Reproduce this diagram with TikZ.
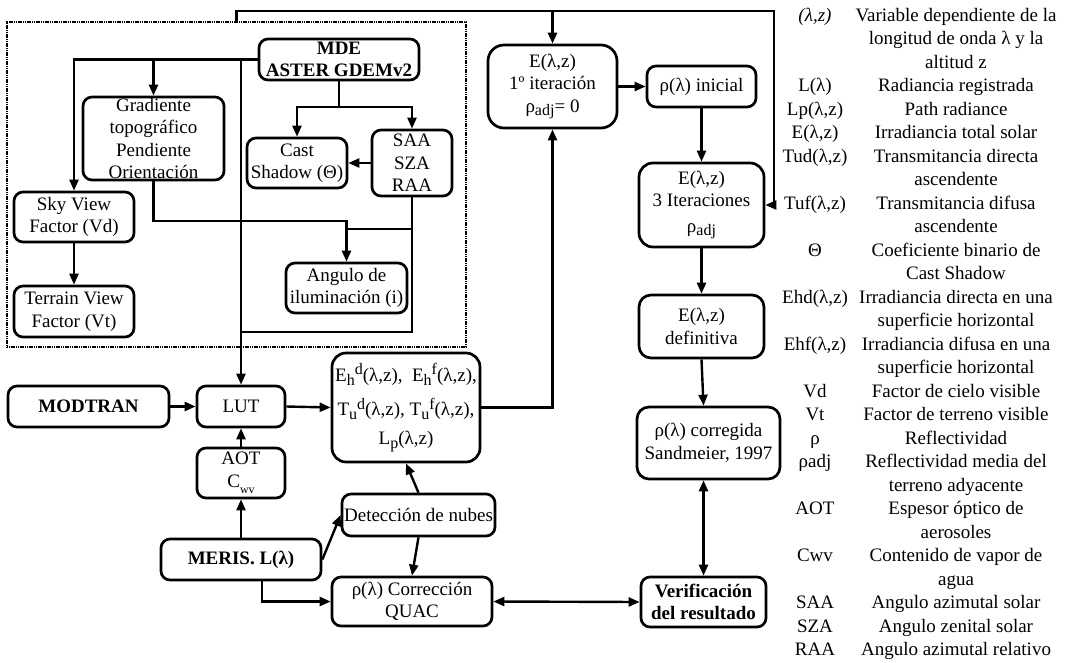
\documentclass[tikz,border=0pt]{standalone}
\usepackage{fontspec}
\setmainfont{Liberation Serif}
\usetikzlibrary{arrows.meta}
\newcommand\lsub[1]{\raisebox{-0.45ex}{\fontsize{16}{16}\selectfont #1}}
\newcommand\lsup[1]{\raisebox{0.75ex}{\fontsize{16}{16}\selectfont #1}}
\begin{document}
\begin{tikzpicture}[x=1pt,y=-1pt,
  font=\fontsize{19}{22.5}\selectfont,
  box/.style={draw, line width=2.7pt, rounded corners=9pt, align=center, inner sep=0pt},
  arr/.style={line width=2.4pt, -{Triangle[length=11pt,width=9pt]}},
  darr/.style={line width=2.4pt, {Triangle[length=11pt,width=9pt]}-{Triangle[length=11pt,width=9pt]}},
  ln/.style={line width=2.4pt},
  grpbox/.style={draw, line width=2pt, dash pattern=on 1.2pt off 0.6pt, inner sep=0pt},
  leg/.style={anchor=base, inner sep=0pt},
  ]
\useasboundingbox (0,0) rectangle (1069,662);

% group box
\node[grpbox, minimum width=459pt, minimum height=325pt] (grp) at (236.5,184.5) {};

% nodes
\node[box, minimum width=160pt, minimum height=41pt] (MDE) at (339,59.5) {\textbf{MDE}\\\textbf{ASTER GDEMv2}};
\node[box, minimum width=141pt, minimum height=83pt] (Grad) at (153.5,138.5) {Gradiente\\topográfico\\Pendiente\\Orientación};
\node[box, minimum width=120pt, minimum height=50pt] (Sky) at (74,217) {Sky View\\Factor (Vd)};
\node[box, minimum width=120pt, minimum height=51pt] (Ter) at (74,311.5) {Terrain View\\Factor (Vt)};
\node[box, minimum width=100pt, minimum height=50pt] (Cast) at (297,163) {Cast\\Shadow (Θ)};
\node[box, minimum width=80pt, minimum height=66pt] (SAA) at (412,163) {SAA\\SZA\\RAA};
\node[box, minimum width=121pt, minimum height=50pt] (Ang) at (346.5,288) {Angulo de\\iluminación (i)};
\node[box, minimum width=88pt, minimum height=41pt] (LUT) at (241,406.5) {LUT};
\node[box, minimum width=161pt, minimum height=41pt] (MOD) at (88.5,406.5) {\textbf{MODTRAN}};
\node[box, minimum width=88pt, minimum height=50pt] (AOT) at (241,473) {AOT\\C\raisebox{-0.7ex}{\fontsize{12}{12}\selectfont wv}};
\node[box, minimum width=160pt, minimum height=41pt] (MER) at (241,559.5) {\textbf{MERIS. L(λ)}};
\node[box, rounded corners=14pt, minimum width=148pt, minimum height=109pt] (Eh) at (406,407.5)
  {E\lsub{h}\lsup{d}(λ,z),\ \ E\lsub{h}\lsup{f}(λ,z),\\[12pt]T\lsub{u}\lsup{d}(λ,z), T\lsub{u}\lsup{f}(λ,z),\\[6pt]L\lsub{p}(λ,z)};
\node[box, minimum width=153pt, minimum height=42pt] (Det) at (418.5,515) {Detección de nubes};
\node[box, minimum width=160pt, minimum height=49pt] (QUAC) at (412,601.5) {ρ(λ) Corrección\\QUAC};
\node[box, minimum width=125pt, minimum height=50pt] (Ver) at (703.5,602) {\textbf{Verificación}\\\textbf{del resultado}};
\node[box, rounded corners=12pt, minimum width=143pt, minimum height=72pt] (Cor) at (708.5,443) {ρ(λ) corregida\\Sandmeier, 1997};
\node[box, rounded corners=16pt, minimum width=129pt, minimum height=83pt] (E1) at (552.5,86.5) {E(λ,z)\\1º iteración\\ρ\lsub{adj}= 0};
\node[box, minimum width=109pt, minimum height=41pt] (Ini) at (701.5,86.5) {ρ(λ) inicial};
\node[box, rounded corners=14pt, minimum width=125pt, minimum height=84pt] (E3) at (701.5,205) {E(λ,z)\\3 Iteraciones\\[3pt]ρ\lsub{adj}};
\node[box, rounded corners=12pt, minimum width=125pt, minimum height=63pt] (Edef) at (701.5,326.5) {E(λ,z)\\definitiva};

% helper coordinates
\coordinate (y107) at (0,107);
\coordinate (y221) at (0,221);
\coordinate (y229) at (0,229);
\coordinate (y332) at (0,332);
\coordinate (tr) at (774,11);

% connectors
\draw[arr] (MDE.west) -| (Sky.north);
\draw[arr] (Grad.north |- MDE.west) -- (Grad.north);
\draw[arr] (LUT.north |- MDE.west) -- (LUT.north);
\draw[ln] (MDE.south) -- (MDE.south |- y107);
\draw[arr] (MDE.south |- y107) -| (Cast.north);
\draw[arr] (MDE.south |- y107) -| (SAA.north);
\draw[arr] (SAA.west) -- (Cast.east);
\draw[arr] (Grad.south) |- (Ang.north |- y221) -- (Ang.north);
\draw[ln] (SAA.south) |- (LUT.north |- y332);
\draw[ln] (SAA.south |- y229) -- (Ang.north |- y229);
\draw[arr] (Sky.south) -- (Ter.north);

\draw[arr] (grp.north) |- (tr) |- (E3.east);
\draw[arr] (E1.north |- tr) -- (E1.north);

\draw[arr] (MOD.east) -- (LUT.west);
\draw[arr] (AOT.north) -- (LUT.south);
\draw[arr] (MER.north) -- (AOT.south);
\draw[arr] (LUT.east) -- (Eh.west);
\draw[arr] (Eh.east) -| (E1.south);
\draw[arr] (E1.east) -- (Ini.west);
\draw[arr] (Ini.south) -- (E3.north);
\draw[arr] (E3.south) -- (Edef.north);
\draw[arr] (Edef.south) -- (Cor.north -| Ver.north);
\draw[darr] (Cor.south -| Ver.north) -- (Ver.north);
\draw[darr] (QUAC.east) -- (Ver.west);
\draw[arr] (Det.north) -- (Eh.south);
\draw[arr] (MER.east) -- (Det.west);
\draw[arr] (Det.south) -- (QUAC.north);
\draw[arr] ([xshift=21pt]MER.south) |- (QUAC.west);

% legend
\foreach \i/\t in {1/{\textit{(λ,z)}},4/{L(λ)},5/{Lp(λ,z)},6/{E(λ,z)},7/{Tud(λ,z)},9/{Tuf(λ,z)},11/{Θ},13/{Ehd(λ,z)},15/{Ehf(λ,z)},17/{Vd},18/{Vt},19/{ρ},20/{ρadj},22/{AOT},24/{Cwv},26/{SAA},27/{SZA},28/{RAA}}
  \node[leg] (legL\i) at (815,{21+23.5*(\i-1)}) {\t};
\foreach \i/\t in {1/{Variable dependiente de la},2/{longitud de onda λ y la},3/{altitud z},4/{Radiancia registrada},5/{Path radiance},6/{Irradiancia total solar},7/{Transmitancia directa},8/{ascendente},9/{Transmitancia difusa},10/{ascendente},11/{Coeficiente binario de},12/{Cast Shadow},13/{Irradiancia directa en una},14/{superficie horizontal},15/{Irradiancia difusa en una},16/{superficie horizontal},17/{Factor de cielo visible},18/{Factor de terreno visible},19/{Reflectividad},20/{Reflectividad media del},21/{terreno adyacente},22/{Espesor óptico de},23/{aerosoles},24/{Contenido de vapor de},25/{agua},26/{Angulo azimutal solar},27/{Angulo zenital solar},28/{Angulo azimutal relativo}}
  \node[leg] (legR\i) at (956,{21+23.5*(\i-1)}) {\t};
\end{tikzpicture}
\end{document}
